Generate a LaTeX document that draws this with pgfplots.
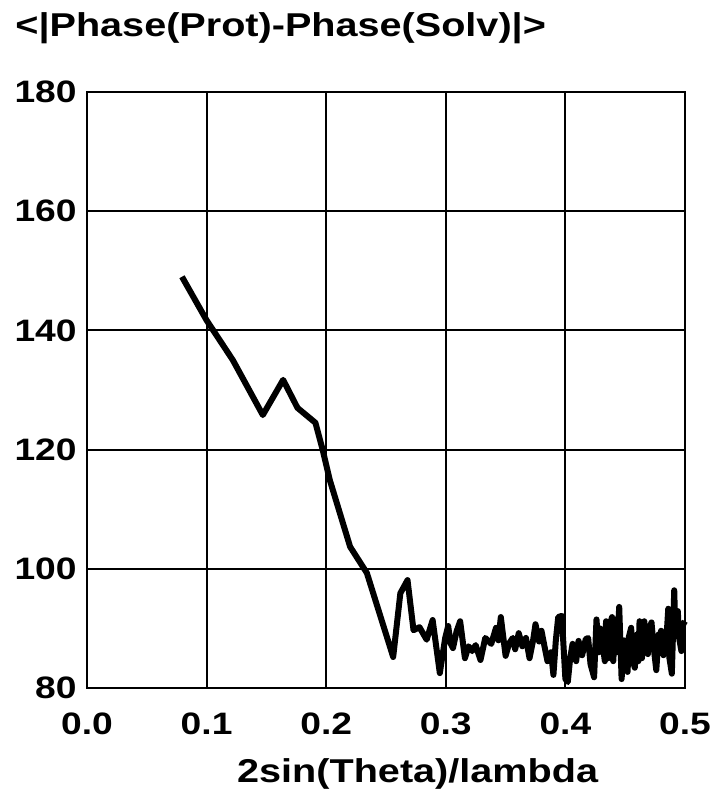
\documentclass[border=0pt]{standalone}
\usepackage{fontspec}
\setmainfont{Liberation Sans}[FakeStretch=1.2]
\usepackage{pgfplots}
\pgfplotsset{compat=1.18}
\begin{document}
\begin{tikzpicture}
\begin{axis}[
  at={(0,0)}, anchor=south west,
  scale only axis, width=299pt, height=298pt,
  xmin=0, xmax=0.5, ymin=80, ymax=180,
  xtick={0,0.1,...,0.5}, ytick={80,100,...,180},
  xticklabels={0.0,0.1,0.2,0.3,0.4,0.5},
  yticklabels={80,100,120,140,160,180},
  grid=major,
  grid style={black, line width=1pt},
  axis line style={black, line width=1pt},
  major tick length=0pt,
  /pgf/number format/assume math mode=true,
  xticklabel style={font=\fontsize{15.5}{18}\selectfont\bfseries, inner sep=0pt, anchor=north, yshift=-12pt},
  yticklabel style={font=\fontsize{15.5}{18}\selectfont\bfseries, inner sep=0pt, anchor=east, xshift=-5pt},
  clip=false,
]
\addplot[black, line width=3pt, line join=round] coordinates {
(0.0794,149.0) (0.100,141.7) (0.122,135.0) (0.147,125.8) (0.164,131.7)
(0.176,127.0) (0.191,124.5) (0.197,120.0) (0.203,114.9) (0.220,103.7)
(0.234,99.3) (0.256,85.2) (0.262,95.9) (0.268,98.1) (0.273,89.7)
(0.278,90.2) (0.284,88.1) (0.289,91.4) (0.295,82.5) (0.2995,88.4)
(0.302,90.4) (0.304,87.5) (0.306,86.7) (0.309,89.5) (0.312,91.2) (0.316,85.0)
(0.319,87.0) (0.322,86.2) (0.325,87.2) (0.329,84.7) (0.333,88.4) (0.338,87.4) (0.342,90.1)
(0.344,88.0) (0.346,91.9) (0.350,85.4) (0.353,87.5) (0.356,88.4) (0.358,86.5) (0.361,89.2) (0.364,87.0) (0.367,88.4)
(0.370,85.0) (0.373,88.0) (0.375,90.7) (0.378,87.8) (0.380,89.6) (0.383,86.5) (0.385,84.5) (0.388,86.0) (0.390,82.2)
(0.392,88.0) (0.394,91.9) (0.397,92.1) (0.400,81.5) (0.402,81.0) (0.404,85.0) (0.406,87.4)
(0.409,84.5) (0.411,87.9) (0.414,85.5) (0.417,88.2) (0.419,88.4) (0.421,84.0) (0.424,81.8)
(0.426,91.5) (0.428,86.0) (0.429,90.0) (0.431,87.4) (0.433,84.5) (0.434,91.2) (0.436,85.0) (0.437,90.5)
(0.439,91.9) (0.440,84.5) (0.442,91.5) (0.443,86.0) (0.445,93.6) (0.447,81.5)
(0.449,88.0) (0.450,84.0) (0.452,82.7) (0.453,88.5) (0.455,90.1) (0.456,85.0) (0.458,83.4) (0.460,89.0)
(0.461,84.5) (0.462,91.2) (0.464,85.0) (0.466,91.2) (0.467,87.0) (0.469,85.7) (0.470,90.0) (0.472,91.0)
(0.474,86.5) (0.476,83.0) (0.478,89.0) (0.479,86.5) (0.480,89.6) (0.482,85.5) (0.483,87.6) (0.485,90.0)
(0.486,93.3) (0.487,85.0) (0.489,82.4) (0.491,96.4) (0.492,89.0) (0.494,92.9) (0.495,88.5) (0.497,86.2)
(0.498,90.5) (0.500,91.2)
};
\end{axis}
\node[anchor=base west, inner sep=0pt, font=\fontsize{16.5}{19}\selectfont\bfseries] at (-36pt,325.5pt) {<|Phase(Prot)-Phase(Solv)|>};
\node[anchor=base, inner sep=0pt, font=\fontsize{16.5}{19}\selectfont\bfseries] at (165.3pt,-47pt) {2sin(Theta)/lambda};
\pgfresetboundingbox
\path[use as bounding box] (-43.5pt,-52.5pt) rectangle (314.5pt,344pt);
\end{tikzpicture}
\end{document}
